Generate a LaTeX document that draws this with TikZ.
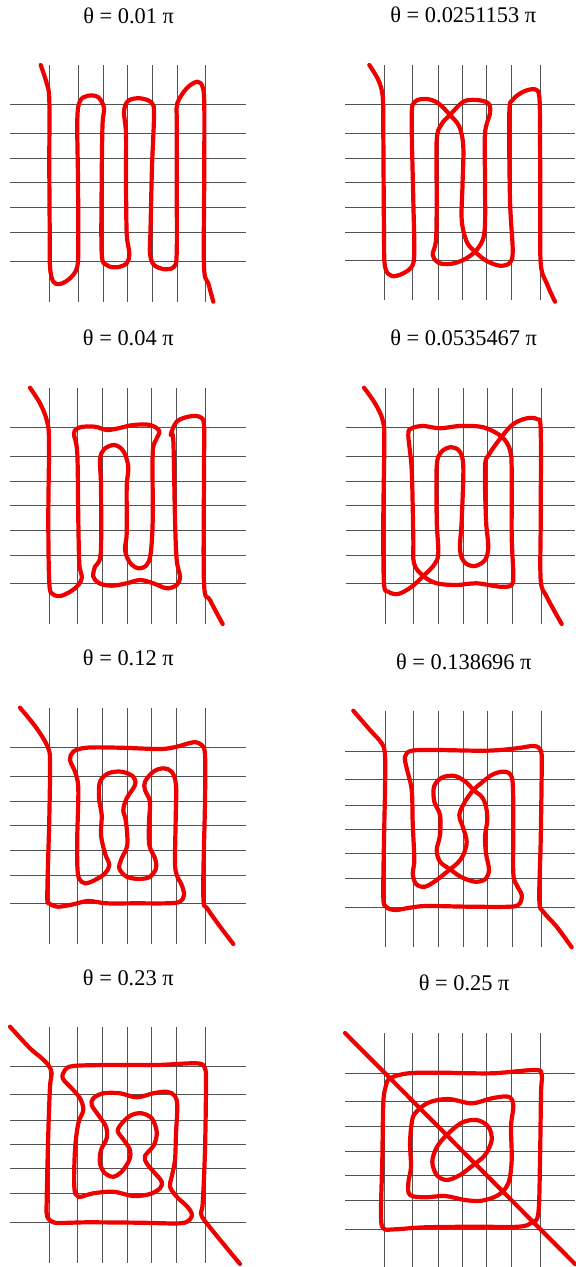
\documentclass[tikz,border=0pt]{standalone}
\usepackage{fontspec}
\setmainfont{Liberation Serif}
\definecolor{knotred}{RGB}{238,0,0}
\tikzset{
  gridln/.style={draw=black!68, line width=0.5pt},
  knot/.style={draw=knotred, line width=2.1pt, line join=round, line cap=round},
  ttl/.style={anchor=base, inner sep=0pt, font=\fontsize{11.2}{13}\selectfont},
}
\newcommand{\gridpanel}[6]{%
  \foreach \o in {-78,-49.5,-24.3,0,24.5,49.5,78.2}{%
    \draw[gridln] ({#1+\o},#3) -- ({#1+\o},#4);
    \draw[gridln] (#5,{#2+\o}) -- (#6,{#2+\o});
  }}
\begin{document}
\begin{tikzpicture}[x=0.5pt,y=-0.5pt]
\useasboundingbox (0,0) rectangle (575,1267);
% titles
\node[ttl] (t1) at (128.7,23.3) {θ = 0.01 π};
\node[ttl] (t2) at (463.3,22.7) {θ = 0.0251153 π};
\node[ttl] (t3) at (128.3,345) {θ = 0.04 π};
\node[ttl] (t4) at (463.7,345) {θ = 0.0535467 π};
\node[ttl] (t5) at (128.3,665) {θ = 0.12 π};
\node[ttl] (t6) at (463.8,669.3) {θ = 0.138696 π};
\node[ttl] (t7) at (128.3,985) {θ = 0.23 π};
\node[ttl] (t8) at (464.2,990.7) {θ = 0.25 π};
% grids
\gridpanel{127.7}{183}{65}{302}{10}{246}
\gridpanel{462.3}{182.7}{65}{300}{345}{575}
\gridpanel{127}{505.7}{388.3}{624}{10}{246}
\gridpanel{463}{505.7}{388.3}{624}{345.7}{575}
\gridpanel{127}{825.7}{708.3}{944}{10}{246}
\gridpanel{463}{829.3}{710.7}{947.3}{345}{575}
\gridpanel{127}{1144.3}{1027.3}{1263.3}{10}{246}
\gridpanel{462.3}{1151}{1033}{1267}{345}{575}
% panel 1
\draw[knot] plot[smooth,tension=0.55] coordinates {(40.7,65) (46.7,83.3) (49.3,100) (49.3,166.7) (49.7,230) (50,266.7) (53.3,281.7) (60,284) (70,278.3) (77.3,266.7) (78.3,240) (78,180) (77.3,120) (80,101) (88.3,95.7) (98.3,97.3) (104,108) (102.5,125) (101.7,180) (101.7,253.3) (106.7,265) (116.7,267.3) (126.7,263.3) (129.3,253.3) (126.7,233.3) (126,180) (126,133.3) (124,111.7) (128.3,100.7) (140,98.3) (151.7,102.7) (154,115) (152,166.7) (150.5,230) (150,253.3) (154,265) (165,269.3) (174,266.7) (176.7,253.3) (176.7,180) (176.7,120) (177.3,103.3) (186.7,88.3) (197.3,81.7) (202.7,87.3) (204.3,106.7) (204.2,180) (204,266.7) (208.3,283.3) (213.3,301.7)};
% panel 2
\draw[knot] plot[smooth,tension=0.55] coordinates {(369.3,65) (378.3,80) (382.7,96.7) (383.3,133.3) (384,233.3) (385,266.7) (391.7,276) (403.3,273.3) (412.7,265) (414.3,246.7) (413.3,200) (411.7,116.7) (415,101.7) (426.7,99) (438.3,103.3) (450,115) (459.3,126.7) (463.3,146.7) (462.5,185) (461.7,220) (466.7,241.7) (475,251.7) (486.7,261) (500,265.7) (510,262.7) (512.7,250) (510,200) (509.3,113.3) (512.7,100) (523.3,91.7) (535,89.3) (539.3,96.7) (540,133.3) (540.3,200) (540.7,263.3) (546.7,283.3) (555,301.7)};
\draw[knot] plot[smooth cycle,tension=0.55] coordinates {(450,115) (441.7,124) (436.7,140) (436.7,200) (436,240) (432.7,255) (438.3,262.7) (450,264) (463.3,260) (475,251.7) (482.7,240) (485,223.3) (485,180) (485,133.3) (490,113.3) (488.3,103.3) (476.7,100) (463.3,101.7)};
% panel 3
\draw[knot] plot[smooth,tension=0.55] coordinates {(30,387.7) (40,403.3) (46.7,420) (49,440) (48.3,520) (49.3,583.3) (52.7,594) (61.7,595.7) (75,588.3) (81.7,578.3) (79.3,563.3) (78.3,520) (77.3,453.3) (74,433.3) (80,427.3) (95,426.7) (106.7,430) (118.3,428.3) (133.3,425) (150,425) (159.3,431) (156,440) (152.7,453.3) (152.7,520) (150.7,553.3) (146.7,565) (138.3,568.3) (130,562.7) (125,550) (126.7,533.3) (126.7,486.7) (128.3,466.7) (123.3,451) (114.3,445) (104,449.3) (100,460) (101,486.7) (100.7,553.3) (95,566.7) (93.3,576.7) (99.3,583.3) (111.7,585.7) (126.7,583.3) (140,580) (153.3,583.3) (166.7,588.3) (176.7,585) (180,576.7) (176.7,560) (175,520) (173.3,440) (170.7,435) (176.7,421.7) (188.3,416.7) (199.3,416.7) (204,425) (204,470) (204,583.3) (210,600) (222.7,624)};
% panel 4
\draw[knot] plot[smooth,tension=0.55] coordinates {(364,387.7) (375,403.3) (382.7,420) (384.3,440) (383.3,520) (384,583.3) (388.3,591.7) (398.3,594) (411.7,586.7) (423.3,576) (434,565) (438.3,553.3) (436.7,520) (436.7,466.7) (440.7,452.7) (450,447.3) (459.3,451) (463.3,466.7) (461.7,520) (460,550) (465,562.7) (475,566) (485,560) (488.3,546.7) (486,520) (485,466.7) (489.3,454) (501.7,436.7) (513.3,424) (526.7,418.3) (537.3,419.3) (540.7,430) (540.7,520) (540.7,580) (546.7,596.7) (561.7,624)};
\draw[knot] plot[smooth cycle,tension=0.55] coordinates {(411.7,428.3) (423.3,426) (440,428.3) (460,426) (483.3,427.3) (501.7,436.7) (510,450) (511.7,470) (511.7,536.7) (513.3,573.3) (511.7,585) (500,586.7) (476.7,583.3) (456.7,585) (436.7,583.3) (423.3,576) (414,563.3) (413.3,536.7) (411.7,470) (408.3,435)};
% panel 5
\draw[knot] plot[smooth,tension=0.55] coordinates {(20,707.7) (36.7,728.3) (48.3,748.3) (50,765) (49.3,818.3) (47.3,895) (49.3,903.3) (58.3,906.7) (73.3,904.3) (88.3,901) (106.7,903.3) (136.7,903.3) (166.7,903.3) (180,901.7) (184,895) (181.7,885) (176.7,875) (175,861.7) (175.7,818.3) (176,785) (171.7,771.7) (163.3,768.3) (153.3,771.7) (145,781.7) (145,790) (150,801.7) (149,821.7) (149.3,845) (155,858.3) (156,868.3) (150,876.7) (140,879) (126.7,876.7) (119.3,868.3) (121.7,858.3) (127.3,845) (126,821.7) (123.3,810) (126.7,798.3) (135,785) (133.3,776.7) (121.7,771.7) (108.3,773.3) (100,781.7) (99,798.3) (101.7,815) (101,835) (105,853.3) (109.3,865) (105,873.3) (95,880) (85,883.3) (79,878.3) (77.3,865) (77.3,835) (78.3,788.3) (75,771.7) (70,760) (73.3,751.7) (86.7,747.7) (120,747.7) (160,749) (176.7,746.7) (193.3,742.3) (201.7,745) (205,755) (205,801.7) (203.3,895) (208.3,910) (233.3,944)};
% panel 6
\draw[knot] plot[smooth,tension=0.55] coordinates {(353.3,710.7) (370,730) (381.7,743.3) (385,755) (385,790) (384,840) (383.3,896.7) (386,906.7) (395,910) (410,907.7) (426.7,906) (470,906.7) (510,906.7) (519.3,904) (521.7,895) (516.7,885) (513.3,873.3) (513.3,823.3) (512.7,783.3) (509.3,773.3) (501.7,771.7) (491.7,775) (481.7,782.7) (473.3,790) (465,801.7) (459.3,815) (463.3,828.3) (466.7,841.7) (463.3,855) (457.3,863.3) (450,869.3) (436.7,880) (425,886.7) (416,884) (412.7,873.3) (414.3,860) (412.7,823.3) (411.7,790) (406.7,768.3) (405,756.7) (411.7,750.7) (436.7,750) (486.7,750.7) (516.7,748.3) (533.3,746) (540.7,750) (541.7,766.7) (540.7,840) (539.3,900) (543.3,911.7) (556.7,926.7) (571.7,947.3)};
\draw[knot] plot[smooth cycle,tension=0.55] coordinates {(473.3,790) (466.7,782.7) (455,776) (441.7,777.7) (434,786.7) (434.3,801.7) (440,815) (440,835) (436.7,850) (440,861.7) (450,869.3) (461.7,877.3) (475,881.7) (485,879.3) (489,870) (486,853.3) (485,836.7) (487.3,820) (486,806.7) (481.7,796.7)};
% panel 7
\draw[knot] plot[smooth,tension=0.55] coordinates {(10,1026.7) (30,1048.3) (40,1056.7) (48.3,1065) (51.7,1073.3) (50,1086.7) (48.3,1133.3) (46.7,1200) (47.3,1216.7) (55,1222.7) (70,1222.7) (90,1222.3) (140,1222.7) (180,1223.3) (190,1219.3) (191.7,1213.3) (186.7,1206) (176.7,1196.7) (170,1186.7) (171.7,1176.7) (175,1160) (176,1133.3) (177.3,1106.7) (175,1096) (166.7,1091.7) (153.3,1093.3) (136.7,1097.3) (120,1093.3) (103.3,1093.3) (93.3,1098.3) (91.7,1105) (98.3,1115) (106,1126.7) (106.7,1138.3) (101,1150) (100,1163.3) (105,1173.3) (113.3,1176.7) (121.7,1171.7) (129.3,1160) (130,1150) (123.3,1139.3) (117.7,1130.7) (123.3,1121.7) (131.7,1115) (141.7,1113.3) (151.7,1118.3) (156.7,1131.7) (154,1145) (145,1156) (146.7,1163.3) (155,1173.3) (161.7,1181.7) (160,1188.3) (150,1194) (133.3,1196) (113.3,1191.7) (93.3,1193.3) (78.3,1196.7) (74.3,1186.7) (75,1150) (78.3,1123.3) (83.3,1110) (80,1098.3) (71.7,1088.3) (62.7,1078.3) (65,1070) (73.3,1066) (106.7,1065) (156.7,1065) (196.7,1063.3) (205,1068.3) (206,1083.3) (205,1150) (202.7,1203.3) (201,1213.3) (206.7,1223.3) (240,1264)};
% panel 8
\draw[knot] (345,1033) -- (575,1264);
\draw[knot] plot[smooth cycle,tension=0.55] coordinates {(390,1078.3) (408.3,1073.3) (441.7,1072.7) (491.7,1073.3) (535,1070) (541.7,1075) (541,1093.3) (540,1160) (538.3,1213.3) (531.7,1222.7) (518.3,1226.7) (475,1226.7) (425,1227.3) (395,1229.3) (383.3,1228.3) (381,1213.3) (382.3,1160) (383.3,1103.3) (385.7,1086.7)};
\draw[knot] plot[smooth cycle,tension=0.55] coordinates {(415,1113.3) (428.3,1102.7) (448.3,1099) (471.7,1103.3) (491.7,1098.3) (508.3,1096.7) (513.3,1105) (511,1126.7) (511.7,1160) (508.3,1183.3) (498.3,1195) (481.7,1200.7) (465,1200) (445,1196) (425,1197.3) (410,1195) (408.3,1183.3) (411,1166.7) (410,1143.3) (411.7,1123.3)};
\draw[knot] plot[smooth cycle,tension=0.55] coordinates {(446.7,1135) (461.7,1122.7) (476.7,1120) (488.3,1126.7) (491.7,1140) (485,1155) (473.3,1165) (460,1175) (446.7,1180) (436.7,1175) (432.3,1161.7) (436.7,1147.3)};
\end{tikzpicture}
\end{document}
